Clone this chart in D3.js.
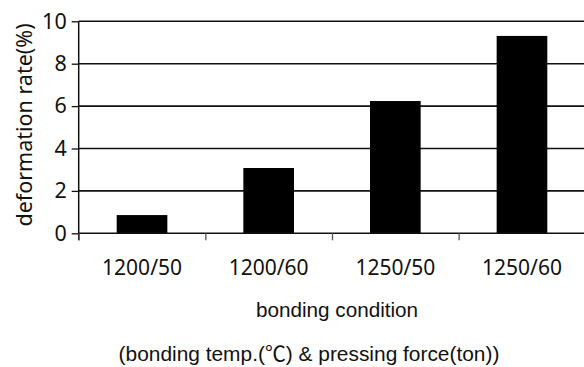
<!DOCTYPE html>
<html>
<head>
<meta charset="utf-8">
<script src="https://cdn.jsdelivr.net/npm/d3@7/dist/d3.min.js"></script>
<style>
  body { margin: 0; background: #fff; }
  svg { display: block; }
</style>
</head>
<body>
<svg id="chart" width="584" height="367"></svg>
<script>
const categories = ["1200/50", "1200/60", "1250/50", "1250/60"];
const values = [0.86, 3.08, 6.24, 9.31];
const yTicks = [0, 2, 4, 6, 8, 10];
const yTitle = "deformation rate(%)";
const xTitle1 = "bonding condition";
const xTitle2 = "(bonding temp.(\u2103) & pressing force(ton))";

(function () {
const svg = d3.select("#chart");
const mLeft = 78.7, mRight = 585.3, mTop = 21.3, mBottom = 233.3;
const numFont = "'Noto Sans', 'Open Sans', sans-serif";
const txtFont = "'Liberation Sans', Arial, 'Noto Sans CJK KR', sans-serif";

const y = d3.scaleLinear().domain([0, 10]).range([mBottom, mTop]);
const x = d3.scaleBand().domain(categories).range([mLeft, mRight]).paddingInner(0.6).paddingOuter(0.3);
const xb = d3.scaleLinear().domain([0, categories.length]).range([mLeft, mRight]);

// gridlines
svg.append("g")
  .selectAll("line")
  .data(yTicks.filter(d => d > 0))
  .join("line")
  .attr("x1", mLeft).attr("x2", mRight)
  .attr("y1", d => y(d)).attr("y2", d => y(d))
  .attr("stroke", "#111").attr("stroke-width", 1.6);

// bars
svg.append("g")
  .selectAll("rect")
  .data(values)
  .join("rect")
  .attr("x", (d, i) => x(categories[i]))
  .attr("width", x.bandwidth())
  .attr("y", d => y(d))
  .attr("height", d => y(0) - y(d))
  .attr("fill", "#000");

// y axis
const yAxis = svg.append("g")
  .attr("transform", `translate(${mLeft},0)`)
  .call(d3.axisLeft(y).tickValues(yTicks).tickSize(7).tickPadding(5));
yAxis.select(".domain").attr("stroke", "#111").attr("stroke-width", 1.5).attr("d", `M0,${mTop}V${mBottom + 7}`);
yAxis.selectAll(".tick line").attr("stroke", "#111").attr("stroke-width", 1.3);
yAxis.selectAll(".tick text").attr("font-family", numFont).attr("font-size", 21.5).attr("fill", "#111");

// x axis line & boundary ticks
const xAxis = svg.append("g")
  .attr("transform", `translate(0,${mBottom})`)
  .call(d3.axisBottom(xb).tickValues(d3.range(categories.length + 1)).tickSize(7).tickFormat(""));
xAxis.select(".domain").attr("stroke", "#111").attr("stroke-width", 1.6).attr("d", `M${mLeft},0H${mRight}`);
xAxis.selectAll(".tick line").attr("stroke", "#555").attr("stroke-width", 1.3);

// x category labels
const xLab = svg.append("g")
  .attr("transform", `translate(0,${mBottom})`)
  .call(d3.axisBottom(x).tickSize(0).tickPadding(27));
xLab.select(".domain").remove();
xLab.selectAll(".tick text").attr("font-family", numFont).attr("font-size", 21).attr("fill", "#111");

// titles
svg.append("text")
  .attr("transform", "translate(32,125) rotate(-90)")
  .attr("text-anchor", "middle")
  .attr("font-family", numFont).attr("font-size", 21.5).attr("fill", "#111")
  .text(yTitle);

svg.append("text")
  .attr("x", 337).attr("y", 317)
  .attr("text-anchor", "middle")
  .attr("font-family", txtFont).attr("font-size", 20.7).attr("fill", "#111")
  .text(xTitle1);

svg.append("text")
  .attr("x", 309).attr("y", 361)
  .attr("text-anchor", "middle")
  .attr("font-family", txtFont).attr("font-size", 20.9).attr("fill", "#111")
  .text(xTitle2);
})();
</script>
</body>
</html>
